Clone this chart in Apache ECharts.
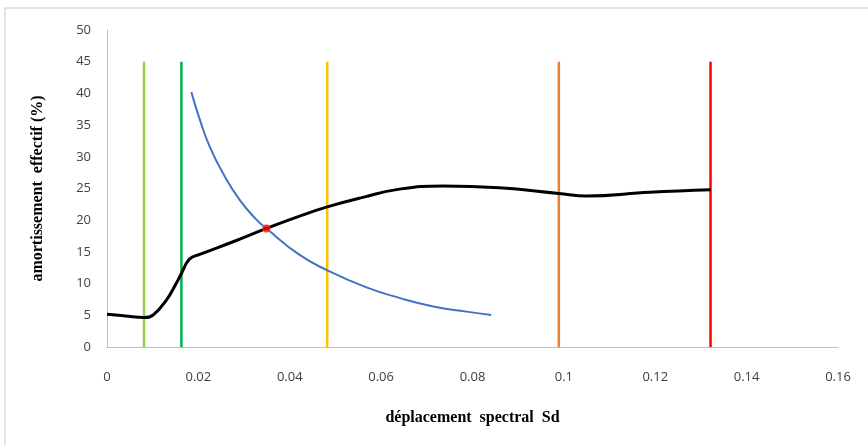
<!DOCTYPE html>
<html><head><meta charset="utf-8">
<script src="https://cdn.jsdelivr.net/npm/echarts@6/dist/echarts.min.js"></script>
<style>html,body{margin:0;padding:0;background:#fff}#c{width:868px;height:445px}</style>
</head><body><div id="c"></div>
<script>
// Black curve: effective damping vs spectral displacement
const blackX = [0, 0.004, 0.0081, 0.0101, 0.0130, 0.0152, 0.01628, 0.0181, 0.0203, 0.0276, 0.0349, 0.042, 0.0482, 0.056, 0.064, 0.0735, 0.0859, 0.0989, 0.1049, 0.1188, 0.1321];
const blackY = [5.15, 4.9, 4.65, 5.05, 7.4, 10.1, 11.6, 13.9, 14.6, 16.6, 18.7, 20.6, 22.1, 23.6, 24.9, 25.4, 25.1, 24.2, 23.8, 24.4, 24.8];
// Blue curve: demand
const blueX = [0.01847, 0.0203, 0.02248, 0.02539, 0.02904, 0.0327, 0.0349, 0.042, 0.0482, 0.0568, 0.064, 0.0714, 0.0787, 0.0841];
const blueY = [40.2, 35.9, 31.6, 27.4, 23.2, 20.1, 18.7, 14.6, 12.1, 9.4, 7.75, 6.4, 5.58, 5.05];
// Intersection point
const pointX = [0.0349];
const pointY = [18.7];
// Vertical limit lines
const vLineX = [0.0081, 0.01628, 0.0482, 0.0989, 0.1321];
const vLineTop = 45;
const vLineColors = ['#92D050', '#00B050', '#FFC000', '#ED7D31', '#FF0000'];
// Axis labels
const xTicks = ['0', '0.02', '0.04', '0.06', '0.08', '0.1', '0.12', '0.14', '0.16'];
const yTicks = [0, 5, 10, 15, 20, 25, 30, 35, 40, 45, 50];

const zip = (xs, ys) => xs.map((x, i) => [x, ys[i]]);
const series = [];
vLineX.forEach((x, i) => {
  series.push({type: 'line', data: [[x, 0], [x, vLineTop]], symbol: 'none', silent: true,
    lineStyle: {color: vLineColors[i], width: 2.5}, z: 2});
});
series.push({type: 'line', data: zip(blueX, blueY), smooth: 0.5, symbol: 'none',
  lineStyle: {color: '#4472C4', width: 2}, z: 3});
series.push({type: 'line', data: zip(blackX, blackY), smooth: 0.45, symbol: 'none',
  lineStyle: {color: '#000000', width: 3}, z: 4});
series.push({type: 'scatter', data: zip(pointX, pointY), symbol: 'circle', symbolSize: 8,
  itemStyle: {color: '#FF0000', borderColor: '#F4A460', borderWidth: 0.5}, z: 5});

const chart = echarts.init(document.getElementById('c'));
chart.setOption({
  animation: false,
  backgroundColor: '#fff',
  graphic: [{type: 'rect', shape: {x: 5, y: 8, width: 900, height: 500},
    style: {fill: 'none', stroke: '#D9D9D9', lineWidth: 1.5}, silent: true}],
  grid: {left: 107, right: 30, top: 30, bottom: 98},
  xAxis: {
    type: 'value', min: 0, max: 0.16, interval: 0.02,
    name: 'déplacement  spectral  Sd', nameLocation: 'middle', nameGap: 63,
    nameTextStyle: {fontFamily: 'Liberation Serif', fontWeight: 'bold', fontSize: 16, color: '#000'},
    axisLine: {lineStyle: {color: '#BFBFBF', width: 1}},
    axisTick: {show: false}, splitLine: {show: false},
    axisLabel: {margin: 24, fontFamily: 'Open Sans', fontSize: 13, color: '#404040',
      formatter: (v) => xTicks[Math.round(v / 0.02)]}
  },
  yAxis: {
    type: 'value', min: 0, max: 50, interval: 5,
    name: 'amortissement  effectif (%)', nameLocation: 'middle', nameGap: 61,
    nameTextStyle: {fontFamily: 'Liberation Serif', fontWeight: 'bold', fontSize: 16, color: '#000'},
    axisLine: {show: true, lineStyle: {color: '#BFBFBF', width: 1}},
    axisTick: {show: false}, splitLine: {show: false},
    axisLabel: {margin: 16, fontFamily: 'Open Sans', fontSize: 13, color: '#404040',
      formatter: (v) => String(yTicks[Math.round(v / 5)])}
  },
  series: series
});
</script></body></html>
